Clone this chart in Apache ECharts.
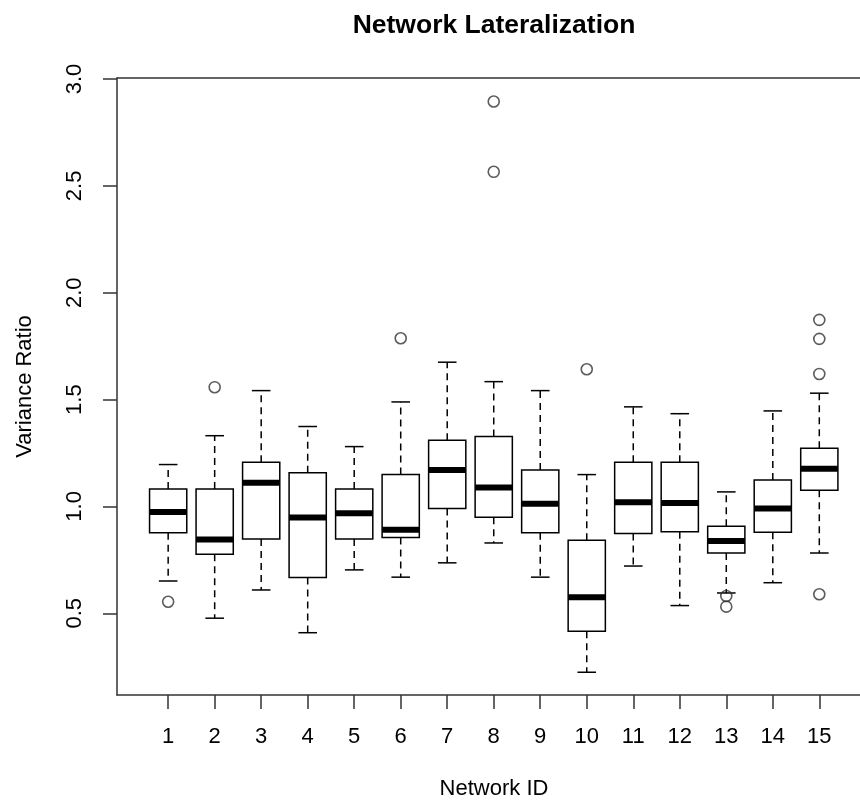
<!DOCTYPE html>
<html>
<head>
<meta charset="utf-8">
<script src="https://cdn.jsdelivr.net/npm/echarts@6/dist/echarts.min.js"></script>
<style>
  html, body { margin: 0; padding: 0; background: #fff; }
  #chart { width: 860px; height: 804px; }
</style>
</head>
<body>
<div id="chart"></div>
<script>
// values
const networkIds = [1, 2, 3, 4, 5, 6, 7, 8, 9, 10, 11, 12, 13, 14, 15]
const whiskerLow = [0.651, 0.477, 0.609, 0.409, 0.703, 0.669, 0.736, 0.829, 0.669, 0.224, 0.721, 0.536, 0.595, 0.643, 0.782]
const quartile1 = [0.877, 0.776, 0.848, 0.667, 0.848, 0.854, 0.990, 0.949, 0.877, 0.416, 0.873, 0.882, 0.782, 0.879, 1.076]
const medians = [0.974, 0.845, 1.111, 0.948, 0.968, 0.891, 1.171, 1.088, 1.013, 0.575, 1.020, 1.016, 0.838, 0.990, 1.176]
const quartile3 = [1.082, 1.082, 1.207, 1.158, 1.082, 1.149, 1.310, 1.327, 1.171, 0.842, 1.207, 1.207, 0.907, 1.124, 1.272]
const whiskerHigh = [1.196, 1.331, 1.542, 1.374, 1.280, 1.489, 1.675, 1.584, 1.542, 1.149, 1.466, 1.434, 1.068, 1.447, 1.530]

const outlierIds = [1, 2, 6, 8, 8, 10, 13, 13, 15, 15, 15, 15]
const outlierValues = [0.554, 1.558, 1.787, 2.566, 2.895, 1.642, 0.581, 0.531, 1.873, 1.784, 1.620, 0.589]

const yTicks = [0.5, 1.0, 1.5, 2.0, 2.5, 3.0]

let boxData = []
for (let i = 0; i < networkIds.length; i++) {
    boxData.push([networkIds[i], whiskerLow[i], quartile1[i], medians[i], quartile3[i], whiskerHigh[i]])
}
let outlierData = []
for (let i = 0; i < outlierIds.length; i++) {
    outlierData.push([outlierIds[i], outlierValues[i]])
}

const fontName = '"Liberation Sans", Arial, sans-serif'
const frame = {show: true, onZero: false, lineStyle: {color: '#333', width: 1.5}}

function renderBox(params, api) {
    let x = api.value(0)
    let lo = api.coord([x, api.value(1)])
    let q1 = api.coord([x, api.value(2)])
    let md = api.coord([x, api.value(3)])
    let q3 = api.coord([x, api.value(4)])
    let hi = api.coord([x, api.value(5)])
    let half = api.size([0.8, 0])[0] / 2
    let cap = api.size([0.4, 0])[0] / 2
    let cx = md[0]
    let solid = {stroke: '#000', lineWidth: 1.5, fill: null}
    let dashed = {stroke: '#000', lineWidth: 1.5, lineDash: [7, 5]}
    return {
        type: 'group',
        children: [
            {type: 'line', shape: {x1: cx, y1: q3[1], x2: cx, y2: hi[1]}, style: dashed},
            {type: 'line', shape: {x1: cx, y1: q1[1], x2: cx, y2: lo[1]}, style: dashed},
            {type: 'line', shape: {x1: cx - cap, y1: hi[1], x2: cx + cap, y2: hi[1]}, style: solid},
            {type: 'line', shape: {x1: cx - cap, y1: lo[1], x2: cx + cap, y2: lo[1]}, style: solid},
            {type: 'rect', shape: {x: cx - half, y: q3[1], width: half * 2, height: q1[1] - q3[1]},
                style: {stroke: '#000', lineWidth: 1.5, fill: '#fff'}},
            {type: 'line', shape: {x1: cx - half, y1: md[1], x2: cx + half, y2: md[1]},
                style: {stroke: '#000', lineWidth: 6}}
        ]
    }
}

const option = {
    animation: false,
    backgroundColor: '#fff',
    title: [
        {
            text: 'Network Lateralization',
            left: 494,
            top: 12,
            padding: 0,
            textAlign: 'center',
            textStyle: {fontFamily: fontName, fontSize: 26.5, fontWeight: 'bold', color: '#000'}
        },
        {
            text: 'Network ID',
            left: 494,
            top: 778,
            padding: 0,
            textAlign: 'center',
            textStyle: {fontFamily: fontName, fontSize: 22, fontWeight: 'normal', color: '#000'}
        }
    ],
    grid: {
        left: 117,
        right: 0,
        top: 78,
        bottom: 109
    },
    xAxis: [
        {
            type: 'value',
            min: -0.1,
            max: 15.875,
            axisLine: frame,
            splitLine: {show: false},
            axisTick: {show: true, inside: false, length: 14, customValues: networkIds,
                lineStyle: {color: '#333', width: 1.5}},
            axisLabel: {customValues: networkIds, margin: 31, fontFamily: fontName, fontSize: 22, color: '#000'}
        },
        {
            type: 'value',
            position: 'top',
            min: -0.1,
            max: 15.875,
            axisLine: frame,
            splitLine: {show: false},
            axisTick: {show: false},
            axisLabel: {show: false}
        }
    ],
    yAxis: {
        type: 'value',
        min: 0.1175,
        max: 3.005,
        name: 'Variance Ratio',
        nameLocation: 'middle',
        nameRotate: 90,
        nameGap: 81,
        nameTextStyle: {fontFamily: fontName, fontSize: 22, color: '#000'},
        axisLine: frame,
        splitLine: {show: false},
        axisTick: {show: true, inside: false, length: 14, customValues: yTicks,
            lineStyle: {color: '#333', width: 1.5}},
        axisLabel: {
            customValues: yTicks,
            rotate: 90,
            margin: 31,
            fontFamily: fontName,
            fontSize: 22,
            color: '#000',
            formatter: function (v) { return v.toFixed(1) }
        }
    },
    series: [
        {
            name: 'boxes',
            type: 'custom',
            renderItem: renderBox,
            data: boxData,
            encode: {x: 0, y: [1, 2, 3, 4, 5]},
            z: 2
        },
        {
            name: 'outliers',
            type: 'scatter',
            data: outlierData,
            symbol: 'circle',
            symbolSize: 11,
            itemStyle: {color: 'transparent', borderColor: '#333', borderWidth: 1.6},
            z: 3
        }
    ]
}

const myChart = echarts.init(document.getElementById('chart'))
myChart.setOption(option)
</script>
</body>
</html>
